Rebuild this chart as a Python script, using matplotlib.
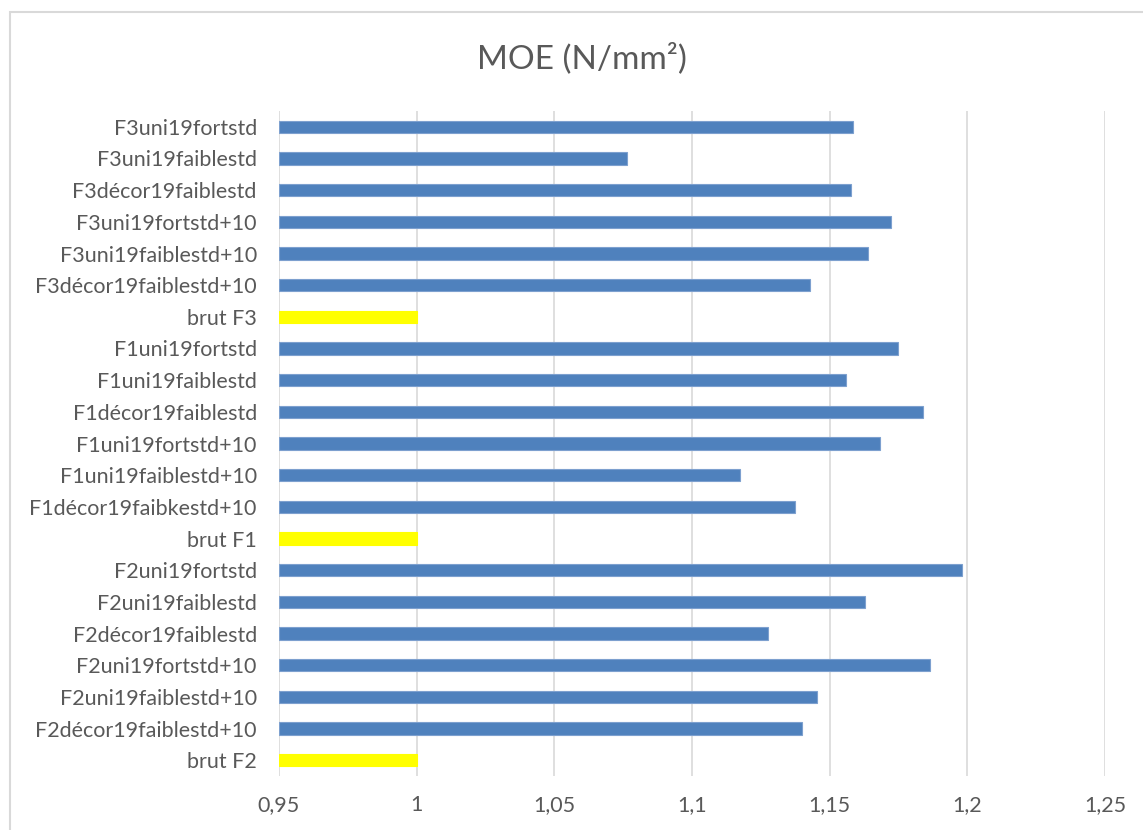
import matplotlib
matplotlib.use("Agg")
import matplotlib.pyplot as plt
from matplotlib.patches import Rectangle

categories = [
    "F3uni19fortstd", "F3uni19faiblestd", "F3décor19faiblestd",
    "F3uni19fortstd+10", "F3uni19faiblestd+10", "F3décor19faiblestd+10",
    "brut F3",
    "F1uni19fortstd", "F1uni19faiblestd", "F1décor19faiblestd",
    "F1uni19fortstd+10", "F1uni19faiblestd+10", "F1décor19faibkestd+10",
    "brut F1",
    "F2uni19fortstd", "F2uni19faiblestd", "F2décor19faiblestd",
    "F2uni19fortstd+10", "F2uni19faiblestd+10", "F2décor19faiblestd+10",
    "brut F2",
]
values = [
    1.1585, 1.0765, 1.1576, 1.1721, 1.1638, 1.1427,
    1.0,
    1.1747, 1.1558, 1.1838, 1.1682, 1.1176, 1.1373,
    1.0,
    1.1982, 1.1627, 1.1275, 1.1866, 1.1453, 1.1399,
    1.0,
]
x_ticks = [0.95, 1.0, 1.05, 1.1, 1.15, 1.2, 1.25]
x_tick_labels = ["0,95", "1", "1,05", "1,1", "1,15", "1,2", "1,25"]
title = "MOE (N/mm²)"

plt.rcParams['font.family'] = ['Lato', 'DejaVu Sans']

W, H = 1143, 830
fig = plt.figure(figsize=(W / 100, H / 100), dpi=100)
fig.patch.set_facecolor("white")

# chart border (light gray), extends beyond right/bottom edges
fig.patches.append(Rectangle((10 / W, -0.1), 1.2, 1 - 12 / H + 0.1,
                             transform=fig.transFigure, fill=False,
                             edgecolor="#d9d9d9", linewidth=1.5))

left, right = 279 / W, 1105 / W
top, bottom = 1 - 111 / H, 1 - 776 / H
ax = fig.add_axes([left, bottom, right - left, top - bottom])

n = len(categories)
ypos = list(range(n - 1, -1, -1))
base = 0.95
colors = ["#FFFF00" if c.startswith("brut") else "#4F81BD" for c in categories]
edges = ["#FFFF00" if c.startswith("brut") else "#7da0cf" for c in categories]
ax.barh(ypos, [v - base for v in values], left=base, height=0.38,
        color=colors, edgecolor=edges, linewidth=0.8, zorder=3)

ax.set_xlim(0.95, 1.25)
ax.set_ylim(-0.5, n - 0.5)
ax.set_xticks(x_ticks)
ax.set_xticklabels(x_tick_labels)
ax.set_yticks(ypos)
ax.set_yticklabels(categories)
ax.tick_params(axis="both", length=0, colors="#595959", labelsize=15.5)
ax.tick_params(axis="x", pad=14)
ax.tick_params(axis="y", pad=16)
for s in ax.spines.values():
    s.set_visible(False)
ax.grid(axis="x", color="#d9d9d9", linewidth=1.2, zorder=0)
ax.set_axisbelow(True)

fig.text(582 / W, 1 - 58 / H, title, ha="center", va="center",
         fontsize=24, color="#595959")

fig.savefig("out.png", dpi=100, facecolor="white")
